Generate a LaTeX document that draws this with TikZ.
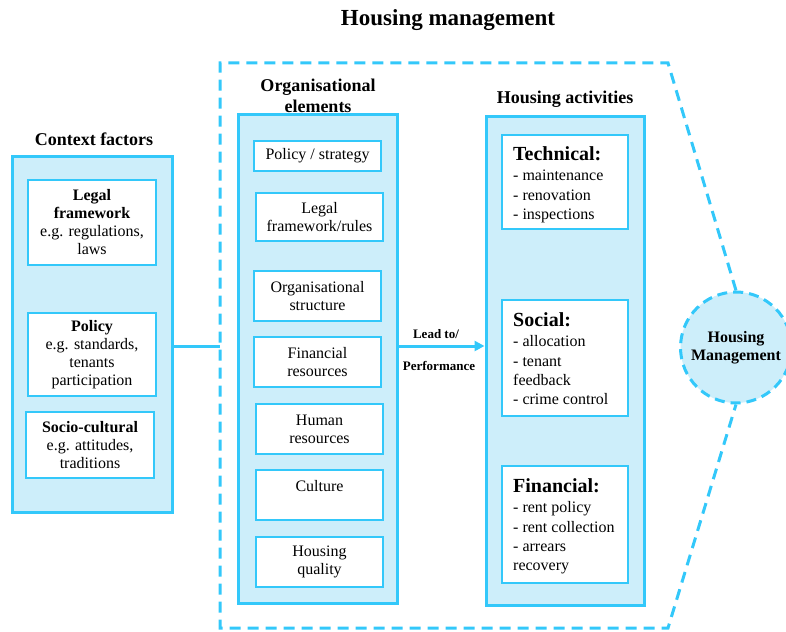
\documentclass[tikz,border=0pt]{standalone}
\usepackage{fontspec}
\setmainfont{Liberation Serif}
\usetikzlibrary{arrows.meta,calc}
\definecolor{cyanb}{RGB}{51,200,250}
\definecolor{lblue}{RGB}{205,238,250}
\begin{document}
\begin{tikzpicture}[x=1pt,y=-1pt,
 outerbox/.style={draw=cyanb, fill=lblue, line width=3pt, inner sep=0pt},
 innerbox/.style={draw=cyanb, fill=white, line width=1.2pt, align=center, inner sep=0pt, font=\fontsize{16}{18}\selectfont},
 ttl/.style={font=\fontsize{18}{21}\selectfont\bfseries, align=center, inner sep=0pt},
 dashline/.style={draw=cyanb, line width=3pt, dash pattern=on 11pt off 7pt},
 listtext/.style={anchor=north west, align=left, inner sep=0pt, font=\fontsize{16}{19.3}\selectfont},
 conn/.style={draw=cyanb, line width=3pt},
 lbl/.style={font=\fontsize{13}{15}\selectfont\bfseries, inner sep=0pt}
]
\useasboundingbox (0,0) rectangle (786,631);

\node[ttl, font=\fontsize{23}{26}\selectfont\bfseries] (title) at (448,20) {Housing management};

% Context factors
\node[outerbox, minimum width=160pt, minimum height=355pt] (ctx) at (92,334.5) {};
\node[ttl] (ctxt) at (94,139) {Context factors};
\node[innerbox, minimum width=128pt, minimum height=85pt] (c1) at (92,222.5) {\textbf{Legal}\\\textbf{framework}\\e.g. regulations,\\laws};
\node[innerbox, minimum width=128pt, minimum height=83pt] (c2) at (92,354.5) {\textbf{Policy}\\e.g. standards,\\tenants\\participation};
\node[innerbox, minimum width=128pt, minimum height=66pt] (c3) at (90,445) {\textbf{Socio-cultural}\\e.g. attitudes,\\traditions};

% Organisational elements
\node[outerbox, minimum width=159pt, minimum height=488pt] (org) at (317.5,359) {};
\node[ttl] (orgt) at (318,96) {Organisational\\elements};
\node[innerbox, minimum width=127pt, minimum height=30pt] (o1) at (317.5,156) {Policy / strategy};
\node[innerbox, minimum width=127pt, minimum height=48pt] (o2) at (319.5,217) {Legal\\framework/rules};
\node[innerbox, minimum width=127pt, minimum height=50pt] (o3) at (317.5,296) {Organisational\\structure};
\node[innerbox, minimum width=127pt, minimum height=50pt] (o4) at (317.5,362) {Financial\\resources};
\node[innerbox, minimum width=127pt, minimum height=50pt] (o5) at (319.5,429) {Human\\resources};
\node[innerbox, minimum width=127pt, minimum height=50pt] (o6) at (319.5,495) {Culture\\\mbox{}};
\node[innerbox, minimum width=127pt, minimum height=50pt] (o7) at (319.5,562) {Housing\\quality};

% Housing activities
\node[outerbox, minimum width=158pt, minimum height=488pt] (act) at (565,361) {};
\node[ttl] (actt) at (565,99) {Housing activities};
\node[innerbox, minimum width=126pt, minimum height=94pt] (a1) at (565,182) {};
\node[innerbox, minimum width=126pt, minimum height=116pt] (a2) at (565,358) {};
\node[innerbox, minimum width=126pt, minimum height=117pt] (a3) at (565,524.5) {};
\node[listtext] (a1t) at (513,146) {{\fontsize{20}{20}\selectfont\bfseries Technical:}\\[1.5pt]- maintenance\\- renovation\\- inspections};
\node[listtext] (a2t) at (513,312) {{\fontsize{20}{20}\selectfont\bfseries Social:}\\[1.5pt]- allocation\\- tenant\\feedback\\- crime control};
\node[listtext] (a3t) at (513,478) {{\fontsize{20}{20}\selectfont\bfseries Financial:}\\[1.5pt]- rent policy\\- rent collection\\- arrears\\recovery};

% Housing management circle
\node[circle, draw=cyanb, fill=lblue, line width=3pt, dash pattern=on 10pt off 6pt, minimum size=111pt, inner sep=0pt, align=center, font=\fontsize{16}{18.5}\selectfont\bfseries] (hm) at (736,347.5) {Housing\\Management};

% dashed boundary
\coordinate (tr) at (668,63);
\coordinate (tl) at (220,63);
\coordinate (bl) at (220,628);
\coordinate (br) at (668,628);
\draw[dashline] (hm.north) -- (tr) -- (tl) -- (bl) -- (br) -- (hm.south);

% connectors
\coordinate (L) at (220,346);
\draw[conn] (L -| ctx.east) -- (L);
\coordinate (A) at (0,346);
\draw[conn, -{Triangle[length=10pt,width=10pt]}] (A -| org.east) -- (A -| act.west);
\node[lbl] (lt) at (436,334) {Lead to/};
\node[lbl] (pf) at (439,366) {Performance};
\end{tikzpicture}
\end{document}
